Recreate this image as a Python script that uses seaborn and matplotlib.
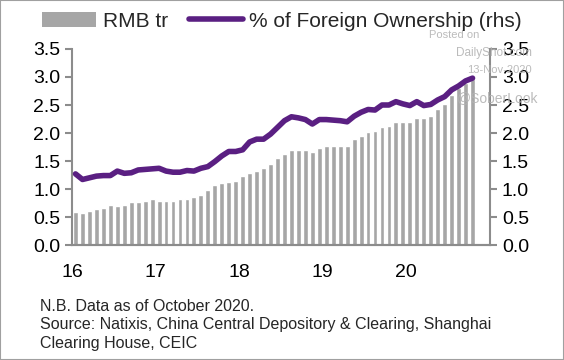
import pandas as pd
import seaborn as sns
import matplotlib.pyplot as plt
from matplotlib.patches import Patch, Rectangle
from matplotlib.lines import Line2D

# Monthly data, Jan 2016 - Oct 2020
rmb_tr = [0.59, 0.57, 0.61, 0.64, 0.66, 0.71, 0.70, 0.72, 0.76, 0.77, 0.79, 0.82,
          0.79, 0.78, 0.79, 0.82, 0.82, 0.85, 0.89, 0.98, 1.07, 1.11, 1.12, 1.15,
          1.24, 1.28, 1.32, 1.38, 1.44, 1.55, 1.62, 1.69, 1.70, 1.69, 1.66, 1.73,
          1.76, 1.76, 1.77, 1.77, 1.89, 1.95, 2.02, 2.03, 2.11, 2.12, 2.20, 2.19,
          2.20, 2.27, 2.26, 2.31, 2.42, 2.51, 2.67, 2.81, 2.90, 2.96]
foreign_pct = [1.27, 1.17, 1.20, 1.23, 1.24, 1.24, 1.32, 1.28, 1.29, 1.34, 1.35, 1.36,
               1.37, 1.32, 1.30, 1.30, 1.33, 1.32, 1.37, 1.40, 1.49, 1.59, 1.67, 1.67,
               1.70, 1.84, 1.89, 1.89, 1.98, 2.10, 2.22, 2.29, 2.27, 2.24, 2.16, 2.24,
               2.24, 2.23, 2.22, 2.20, 2.30, 2.37, 2.42, 2.41, 2.50, 2.50, 2.56, 2.52,
               2.49, 2.56, 2.49, 2.51, 2.59, 2.65, 2.77, 2.84, 2.93, 2.98]
year_labels = ['16', '17', '18', '19', '20', '']
y_ticks = [0.0, 0.5, 1.0, 1.5, 2.0, 2.5, 3.0, 3.5]

df = pd.DataFrame({'month': range(len(rmb_tr)), 'rmb': rmb_tr, 'foreign': foreign_pct})

sns.set_style('white')
plt.rcParams['font.family'] = ['Liberation Sans', 'DejaVu Sans']

BAR = '#a6a6a6'
LINE = '#5a1f82'
AXIS = '#8c8c8c'

fig = plt.figure(figsize=(5.64, 3.6), dpi=100)
ax = fig.add_axes([0.1277, 0.3194, 0.741, 0.5445])

sns.barplot(data=df, x='month', y='rmb', color=BAR, saturation=1, width=0.7, ax=ax)
ax2 = ax.twinx()
sns.lineplot(data=df, x='month', y='foreign', color=LINE, linewidth=4, ax=ax2)

for a in (ax, ax2):
    a.set_xlim(-0.5, 59.5)
    a.set_ylim(0, 3.5)
    a.set_yticks(y_ticks)
    a.set_yticklabels([f'{v:.1f}' for v in y_ticks])
    a.set_xlabel('')
    a.set_ylabel('')
    a.spines['top'].set_visible(False)
    for s in ('left', 'right', 'bottom'):
        a.spines[s].set_color(AXIS)
        a.spines[s].set_linewidth(1.5)
    a.tick_params(axis='both', colors=AXIS, labelcolor='black', labelsize=14,
                  length=5, width=1.5, direction='out')

ax.spines['right'].set_visible(False)
ax2.spines['left'].set_visible(False)
ax.set_xticks([-0.5 + 12 * i for i in range(6)])
ax.set_xticklabels(year_labels)
ax.tick_params(axis='x', pad=9)

# legend
handles = [Patch(facecolor=BAR, edgecolor='none'),
           Line2D([0], [0], color=LINE, linewidth=4)]
fig.legend(handles, ['RMB tr', '% of Foreign Ownership (rhs)'], loc='upper center',
           bbox_to_anchor=(0.5, 1.02), ncol=2, frameon=False, fontsize=15,
           handlelength=2.6, handletextpad=0.3, columnspacing=1.0)

# watermark
wm = dict(color='#b4b4b4', ha='center', va='center', alpha=0.9)
fig.text(454 / 564, 1 - 35 / 360, 'Posted on', fontsize=8, **wm)
fig.text(494 / 564, 1 - 53 / 360, 'DailyShot.com', fontsize=8.5, **wm)
fig.text(499 / 564, 1 - 70 / 360, '13-Nov-2020', fontsize=8, **wm)
fig.text(498 / 564, 1 - 98 / 360, '@SoberLook', fontsize=10, **wm)

# footnote
fig.text(40 / 564, 1 - 299 / 360,
         'N.B. Data as of October 2020.\n'
         'Source: Natixis, China Central Depository & Clearing, Shanghai\n'
         'Clearing House, CEIC',
         fontsize=11.5, va='top', ha='left', linespacing=1.28)

fig.patches.append(Rectangle((0, 0), 1, 1, transform=fig.transFigure, fill=False,
                             edgecolor='#a0a0a0', linewidth=1.5))

fig.savefig('out.png', dpi=100)
